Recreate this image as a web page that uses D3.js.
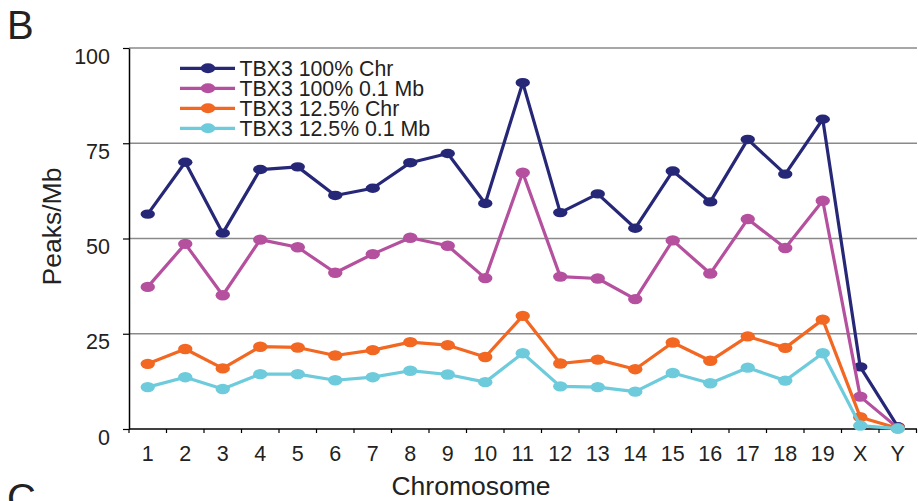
<!DOCTYPE html>
<html>
<head>
<meta charset="utf-8">
<script src="https://cdn.jsdelivr.net/npm/d3@7/dist/d3.min.js"></script>
<style>
  html, body { margin: 0; padding: 0; background: #fff; }
  svg { display: block; font-family: "Liberation Sans", Arial, Helvetica, sans-serif; }
</style>
</head>
<body>
<svg id="chart" width="918" height="501"></svg>
<script>
// Peak density per chromosome
const chromosomes = ["1","2","3","4","5","6","7","8","9","10","11","12","13","14","15","16","17","18","19","X","Y"];
const yTicks = [0, 25, 50, 75, 100];

const tbx3FullChr  = [56.4, 70.0, 51.4, 68.1, 68.8, 61.3, 63.2, 69.9, 72.3, 59.2, 90.9, 56.8, 61.7, 52.7, 67.7, 59.6, 76.0, 66.9, 81.3, 16.3, 0.6];
const tbx3FullMb   = [37.3, 48.6, 35.1, 49.7, 47.7, 41.0, 45.9, 50.2, 48.1, 39.6, 67.3, 40.0, 39.5, 34.1, 49.5, 40.8, 55.1, 47.5, 59.9, 8.5, 0.3];
const tbx3EighthChr = [17.1, 21.0, 15.9, 21.6, 21.4, 19.3, 20.7, 22.8, 22.0, 18.9, 29.7, 17.2, 18.2, 15.7, 22.7, 17.9, 24.3, 21.3, 28.7, 3.1, 0.2];
const tbx3EighthMb  = [11.0, 13.6, 10.5, 14.4, 14.4, 12.8, 13.6, 15.3, 14.3, 12.3, 19.9, 11.2, 11.0, 9.8, 14.7, 12.0, 16.1, 12.7, 19.9, 0.9, 0.1];

const seriesNames  = ["TBX3 100% Chr", "TBX3 100% 0.1 Mb", "TBX3 12.5% Chr", "TBX3 12.5% 0.1 Mb"];
const seriesColors = ["#262877", "#b5509f", "#f26722", "#6dcbdc"];
const seriesValues = [tbx3FullChr, tbx3FullMb, tbx3EighthChr, tbx3EighthMb];

const svg = d3.select("#chart");
const plotLeft = 129, plotRight = 916.5, plotTop = 48, plotBottom = 429;

const x = d3.scaleBand().domain(chromosomes).range([plotLeft, plotRight]);
const y = d3.scaleLinear().domain([0, 100]).range([plotBottom, plotTop]);

// horizontal gridlines
svg.append("g")
  .selectAll("line")
  .data(yTicks.filter(d => d > 0))
  .join("line")
  .attr("x1", plotLeft).attr("x2", 917)
  .attr("y1", d => y(d)).attr("y2", d => y(d))
  .attr("stroke", "#8a8a8a").attr("stroke-width", 1.5);

// y axis
const yAxis = svg.append("g")
  .attr("transform", `translate(${plotLeft},0)`)
  .call(d3.axisLeft(y).tickValues(yTicks).tickSize(6).tickSizeOuter(0).tickPadding(0));
yAxis.select(".domain").attr("stroke", "#000").attr("stroke-width", 1.5);
yAxis.selectAll(".tick line").attr("stroke", "#000").attr("stroke-width", 1.2);
yAxis.selectAll(".tick text")
  .attr("x", -19).attr("dy", null).attr("y", 15)
  .attr("font-size", 21.5).attr("fill", "#222")
  .attr("font-family", "Liberation Sans, Arial, sans-serif");

// x axis: ticks on category boundaries, labels at centres
const xAxis = svg.append("g")
  .attr("transform", `translate(0,${plotBottom})`)
  .call(d3.axisBottom(x).tickSize(0).tickSizeOuter(0).tickPadding(0));
xAxis.select(".domain").remove();
xAxis.append("line")
  .attr("x1", plotLeft).attr("x2", 917).attr("y1", 0).attr("y2", 0)
  .attr("stroke", "#000").attr("stroke-width", 1.5);
xAxis.selectAll(".tick text")
  .attr("y", 32).attr("dy", null)
  .attr("font-size", 21.5).attr("fill", "#222")
  .attr("font-family", "Liberation Sans, Arial, sans-serif");
xAxis.append("g")
  .selectAll("line")
  .data(chromosomes.map(c => x(c)).concat([x(chromosomes[chromosomes.length - 1]) + x.bandwidth()]))
  .join("line")
  .attr("x1", d => d).attr("x2", d => d)
  .attr("y1", 0).attr("y2", 4)
  .attr("stroke", "#000").attr("stroke-width", 1.2);

// axis titles
svg.append("text")
  .attr("x", 471).attr("y", 495)
  .attr("text-anchor", "middle")
  .attr("font-size", 26.5).attr("fill", "#222")
  .text("Chromosome");

svg.append("text")
  .attr("transform", "translate(61,226.5) rotate(-90)")
  .attr("text-anchor", "middle")
  .attr("font-size", 26.5).attr("fill", "#222")
  .text("Peaks/Mb");

// panel letters
svg.append("text").attr("x", 7).attr("y", 39).attr("font-size", 40).attr("fill", "#222").text("B");
svg.append("text").attr("x", 7).attr("y", 512).attr("font-size", 40).attr("fill", "#222").text("C");

// series lines and markers
const cx = c => x(c) + x.bandwidth() / 2;
const line = d3.line().x(d => cx(d.c)).y(d => y(d.v));

seriesValues.forEach((vals, i) => {
  const pts = chromosomes.map((c, j) => ({ c, v: vals[j] }));
  const g = svg.append("g");
  g.append("path")
    .datum(pts)
    .attr("d", line)
    .attr("fill", "none")
    .attr("stroke", seriesColors[i])
    .attr("stroke-width", 3.2)
    .attr("stroke-linejoin", "round");
  g.selectAll("ellipse")
    .data(pts)
    .join("ellipse")
    .attr("cx", d => cx(d.c)).attr("cy", d => y(d.v))
    .attr("rx", 7.2).attr("ry", i === 0 ? 4.7 : 5.2)
    .attr("fill", seriesColors[i]);
});

// legend
const legend = svg.append("g");
seriesNames.forEach((name, i) => {
  const ly = 68.3 + i * 20;
  legend.append("line")
    .attr("x1", 180).attr("x2", 235).attr("y1", ly).attr("y2", ly)
    .attr("stroke", seriesColors[i]).attr("stroke-width", 3.2);
  legend.append("ellipse")
    .attr("cx", 208).attr("cy", ly).attr("rx", 7.2).attr("ry", 5)
    .attr("fill", seriesColors[i]);
  legend.append("text")
    .attr("x", 239.5).attr("y", ly + 7.4)
    .attr("font-size", 21.3).attr("fill", "#222")
    .text(name);
});
</script>
</body>
</html>
